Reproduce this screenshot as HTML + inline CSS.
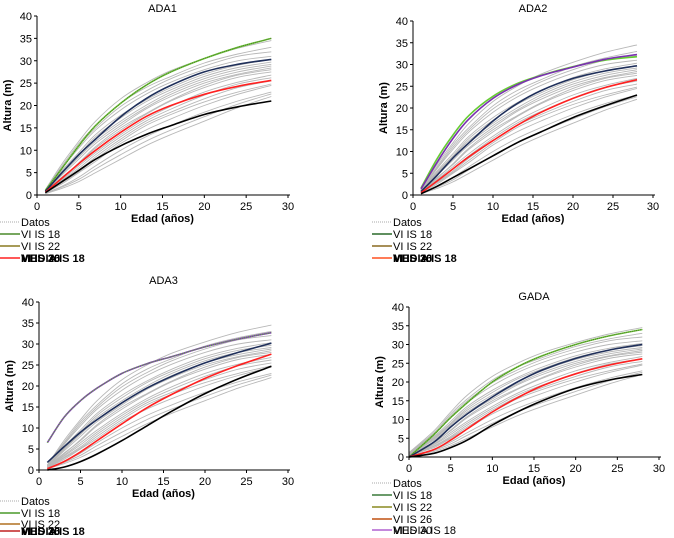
<!DOCTYPE html>
<html><head><meta charset="utf-8"><style>
body{margin:0;background:#fff;}
svg{display:block;font-family:"Liberation Sans",sans-serif;}
</style></head><body>
<svg id="chart" width="674" height="538" viewBox="0 0 674 538"></svg>
<script>
const ages = [1,3,5,7,10,13,16,20,24,28];
const agesGada = [0,3,5,7,10,13,16,20,24,28];
const xTicks = [0,5,10,15,20,25,30];
const yTicks = [0,5,10,15,20,25,30,35,40];
const grayData = [
 [0.3,1.5,3,5,8,11,13.5,16.5,19.5,22],
 [0.4,2,4,6.5,10,13,15.5,18.5,21,23],
 [0.5,2.5,5,7.5,11.5,14.5,17,20,22.5,24.5],
 [0.6,3,5.5,8.5,12.5,16,18.5,21.5,24,25.5],
 [0.7,3.5,6.5,9.5,13.5,17,19.8,23,25.2,26.8],
 [0.8,4,7,10.5,14.5,18,21,24,26.3,27.5],
 [0.8,4.5,8,11.5,15.5,19.2,22,25,27,28.4],
 [0.9,5,8.8,12.5,16.5,20,23,26,28,29.2],
 [1,5.5,9.5,13.5,17.8,21.2,24,27,29,30.3],
 [1,6,10.5,14.5,19,22.5,25.2,28,30,31],
 [1.1,6.5,11.5,15.5,20.5,24,26.5,29.5,31.5,33],
 [1.2,7,12,16.5,21.5,25,27.8,30.5,32.8,34.5],
 [0.5,2.8,5.2,8,12,15.5,18,20.8,23,24.8],
 [0.7,3.8,7.2,10.8,15,18.2,21.2,24.5,26.8,28],
 [0.6,3.3,6,9,13,16.5,19.2,22.3,24.8,26.2],
 [0.9,4.8,8.5,12,16,19.5,22.5,25.5,27.5,28.8],
 [1,5.2,9,13,17.2,20.8,23.5,26.5,28.5,29.7],
 [0.4,1.8,3.5,5.8,9,12,14.5,17.5,20.3,22.6],
 [1.1,6.2,11,15,19.8,23.2,26,28.8,31,32]
];
// ADA1
const ada1Top=[1,6,11,15.5,20.5,24.5,27.5,30.5,33,35];
const ada1Blue=[0.8,5,9,12.5,17.5,21.5,24.5,27.5,29.2,30.3];
const ada1Red=[0.6,3.8,7,10,14,17.5,20,22.5,24.3,25.6];
const ada1Black=[0.5,3,5.5,8,11,13.5,15.5,18,19.7,21];
// ADA2
const ada2Green=[1.6,8.3,13.8,18.3,22.7,25.6,27.5,29.5,31,31.8];
const ada2Purple=[1.4,7.5,13,17.5,22.2,25.3,27.4,29.4,31.2,32.3];
const ada2Blue=[0.8,4.5,8.5,12,17,21,24,26.8,28.5,29.7];
const ada2Red=[0.5,3.2,6,8.8,12.5,16,19,22.2,24.7,26.5];
const ada2Black=[0.3,2,4,6,9,12,14.5,17.8,20.5,23];
// ADA3
const ada3Top=[6.5,12.5,16.5,19.5,23,25.3,27,29.3,31.2,32.7];
const ada3Blue=[1.8,5.5,9,12,16,19.5,22.3,25.5,28,30.2];
const ada3Red=[0.3,2,4.3,7,11,14.8,18,21.8,24.9,27.6];
const ada3Black=[0,0.7,2,3.8,7,10.5,14,18.2,21.7,24.7];
// GADA
const gadaTop=[0,6,10.5,14.5,20,24,27,30,32.3,34];
const gadaBlue=[0,4,8,11.5,16,20,23.2,26.3,28.5,30];
const gadaRed=[0,2,4.5,7.5,12,15.8,19,22.2,24.5,26.2];
const gadaBlack=[0,1,2.5,4.5,8.5,12,15,18.3,20.5,22];

const NS="http://www.w3.org/2000/svg";
const svg=document.getElementById('chart');
function el(tag,attrs,parent,text){const e=document.createElementNS(NS,tag);for(const k in attrs)e.setAttribute(k,attrs[k]);if(text!==undefined)e.textContent=text;(parent||svg).appendChild(e);return e;}
function smooth(pts){let d="M"+pts[0][0]+","+pts[0][1];for(let i=0;i<pts.length-1;i++){const p0=pts[Math.max(0,i-1)],p1=pts[i],p2=pts[i+1],p3=pts[Math.min(pts.length-1,i+2)];const c1=[p1[0]+(p2[0]-p0[0])/6,p1[1]+(p2[1]-p0[1])/6],c2=[p2[0]-(p3[0]-p1[0])/6,p2[1]-(p3[1]-p1[1])/6];d+=" C"+c1[0].toFixed(1)+","+c1[1].toFixed(1)+" "+c2[0].toFixed(1)+","+c2[1].toFixed(1)+" "+p2[0].toFixed(1)+","+p2[1].toFixed(1);}return d;}

function panel(cfg){
 const g=el('g',{});
 
 
 const sx=v=>cfg.x0+(cfg.x30-cfg.x0)*v/30, sy=v=>cfg.y0-(cfg.y0-cfg.y40)*v/40;
 const t=el('text',{x:(cfg.x0+cfg.x30)/2,y:cfg.titleY,'text-anchor':'middle','font-size':11},g,cfg.title);
 
 grayData.forEach(s=>{const p=el('path',{d:smooth(cfg.ages.map((a,i)=>[sx(a),sy(s[i])])),fill:'none',stroke:'#b8b8b8','stroke-width':0.9},g);
  });
 cfg.series.forEach(s=>{const pts=cfg.ages.map((a,i)=>[sx(a),sy(s.v[i])]);
  const p=el('path',{d:smooth(pts),fill:'none',stroke:s.c,'stroke-width':s.w||1.6},g);
  
  if(s.dash){const q=el('path',{d:smooth(pts),fill:'none',stroke:s.dash,'stroke-width':1,'stroke-dasharray':'1,1'},g);}});
 const ax=el('line',{x1:cfg.x0,y1:cfg.y0,x2:cfg.x30+2,y2:cfg.y0,stroke:'#000'},g);
 const ay=el('line',{x1:cfg.x0,y1:cfg.y0,x2:cfg.x0,y2:cfg.y40,stroke:'#000'},g);
 xTicks.forEach(v=>{el('line',{x1:sx(v),y1:cfg.y0,x2:sx(v),y2:cfg.y0+3,stroke:'#000'},g);
  const l=el('text',{x:sx(v),y:cfg.y0+15,'text-anchor':'middle','font-size':11},g,v);});
 yTicks.forEach(v=>{el('line',{x1:cfg.x0-3,y1:sy(v),x2:cfg.x0,y2:sy(v),stroke:'#000'},g);
  const l=el('text',{x:cfg.x0-5,y:sy(v)+4,'text-anchor':'end','font-size':11},g,v);});
 const xt=el('text',{x:(cfg.x0+cfg.x30)/2,y:cfg.y0+27,'text-anchor':'middle','font-size':11,'font-weight':'bold'},g,'Edad (años)');
 
 const cy=(cfg.y0+cfg.y40)/2, yx=cfg.x0-26;
 const yt=el('text',{x:yx,y:cy,'text-anchor':'middle','font-size':11,'font-weight':'bold',transform:`rotate(-90 ${yx} ${cy})`},g,'Altura (m)');
 
 cfg.legend.forEach(L=>{const lg=el('g',{},g);
  el('line',{x1:cfg.lx,y1:L.y-4,x2:cfg.lx+20,y2:L.y-4,stroke:L.c,'stroke-width':L.dot?1:1.5,'stroke-dasharray':L.dot?'1,1':'none'},lg);
  L.t.forEach(tx=>el('text',{x:cfg.lx+21,y:L.y,'font-size':11,'font-weight':L.b?'bold':'normal'},lg,tx));});
}
panel({name:'ada1',title:'ADA1',titleY:12,x0:37,x30:288,y0:195,y40:16,ages:ages,lx:0,
 series:[{n:'vi-is-18-line',v:ada1Top,c:'#66cc33',dash:'#556b2f'},{n:'vi-is-22-line',v:ada1Blue,c:'#1f2f5a'},{n:'media-line',v:ada1Red,c:'#ff2020'},{n:'lower-line',v:ada1Black,c:'#000'}],
 legend:[{y:226,c:'#aaa',dot:1,t:['Datos']},{y:238,c:'#4a8a2a',t:['VI IS 18']},{y:250,c:'#8a7a20',t:['VI IS 22']},{y:262,c:'#ff2020',b:1,t:['MEDIA IS 18','VI IS 26','VI IS 30']}]});
panel({name:'ada2',title:'ADA2',titleY:12,x0:413,x30:653,y0:195,y40:21,ages:ages,lx:372,
 series:[{n:'vi-is-18-line',v:ada2Green,c:'#66cc33'},{n:'vi-is-30-line',v:ada2Purple,c:'#7a30b0'},{n:'vi-is-22-line',v:ada2Blue,c:'#1f2f5a'},{n:'media-line',v:ada2Red,c:'#ff2020'},{n:'lower-line',v:ada2Black,c:'#000'}],
 legend:[{y:226,c:'#aaa',dot:1,t:['Datos']},{y:238,c:'#2a6a2a',t:['VI IS 18']},{y:250,c:'#8a6a20',t:['VI IS 22']},{y:262,c:'#ff5020',b:1,t:['MEDIA IS 18','VI IS 26','VI IS 30']}]});
panel({name:'ada3',title:'ADA3',titleY:284,x0:39,x30:288,y0:470,y40:302,ages:ages,lx:0,
 series:[{n:'vi-is-18-line',v:ada3Top,c:'#7a30b0',dash:'#66cc33'},{n:'vi-is-22-line',v:ada3Blue,c:'#1f2f5a'},{n:'media-line',v:ada3Red,c:'#ff2020'},{n:'lower-line',v:ada3Black,c:'#000'}],
 legend:[{y:505,c:'#aaa',dot:1,t:['Datos']},{y:517,c:'#4a9a2a',t:['VI IS 18']},{y:528,c:'#b07020',t:['VI IS 22']},{y:535,c:'#c02020',b:1,t:['MEDIA IS 18','VI IS 26','VI IS 30']}]});
panel({name:'gada',title:'GADA',titleY:300,x0:409,x30:659,y0:457,y40:307,ages:agesGada,lx:372,
 series:[{n:'vi-is-18-line',v:gadaTop,c:'#66cc33',dash:'#556b2f'},{n:'vi-is-22-line',v:gadaBlue,c:'#1f2f5a'},{n:'media-line',v:gadaRed,c:'#ff2020'},{n:'lower-line',v:gadaBlack,c:'#000'}],
 legend:[{y:487,c:'#aaa',dot:1,t:['Datos']},{y:499,c:'#3a7a3a',t:['VI IS 18']},{y:511,c:'#8a8a20',t:['VI IS 22']},{y:523,c:'#c05010',t:['VI IS 26']},{y:534,c:'#b060d0',t:['MEDIA IS 18','VI IS 30']}]});
</script>
</body></html>
